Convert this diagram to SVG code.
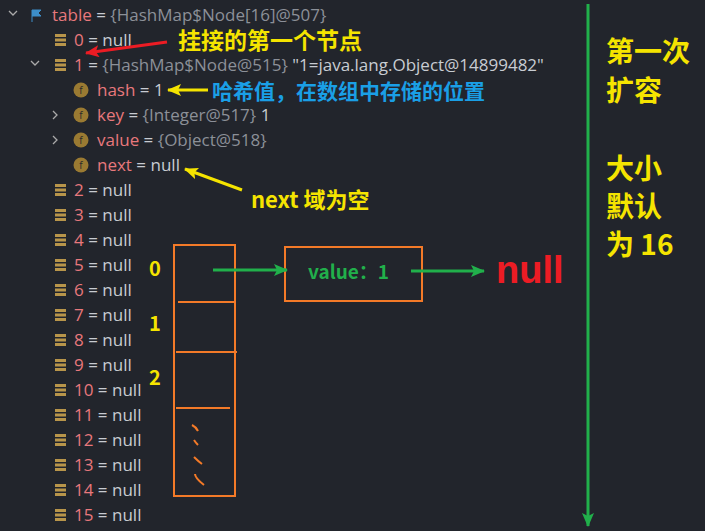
<svg xmlns="http://www.w3.org/2000/svg" width="705" height="531" viewBox="0 0 705 531">
<defs>
<style>
.t{font-family:"Open Sans","Noto Sans",sans-serif;font-size:17px}
.n{fill:#e8787c}.g{fill:#8c9098}.w{fill:#c8ccd2}
.a{font-family:"Noto Sans CJK SC",sans-serif;font-weight:bold}
.o{fill:none;stroke:#f47a28;stroke-width:2}
.i{fill:#b8954a}
</style>
<g id="bars"><rect x="0" y="-6" width="11" height="3" class="i"/><rect x="0" y="-1.5" width="11" height="3" class="i"/><rect x="0" y="3" width="11" height="3" class="i"/></g>
<g id="f"><circle cx="0" cy="0" r="7.5" fill="#9a7a32"/><text x="0" y="4" text-anchor="middle" font-family="Open Sans,sans-serif" font-size="10" fill="#2a2a2a">f</text></g>
<marker id="ag" markerWidth="14" markerHeight="12" refX="13" refY="6" orient="auto" markerUnits="userSpaceOnUse"><path d="M0,0L14,6L0,12L3,6z" fill="#21b04b"/></marker>
<marker id="ay" markerWidth="14" markerHeight="12" refX="13" refY="6" orient="auto" markerUnits="userSpaceOnUse"><path d="M0,0L14,6L0,12L3,6z" fill="#f5e400"/></marker>
<marker id="ar" markerWidth="14" markerHeight="12" refX="13" refY="6" orient="auto" markerUnits="userSpaceOnUse"><path d="M0,0L14,6L0,12L3,6z" fill="#ec1c24"/></marker>
</defs>
<rect width="705" height="531" fill="#22252c"/>
<g id="tree" class="t">
<path d="M9,11l4,4l4,-4" fill="none" stroke="#aaa" stroke-width="1.3"/>
<path d="M32,10v12M32,10h9l-3,3l3,3h-9" fill="#3d8ec9" stroke="#3d8ec9"/>
<text x="52" y="21"><tspan class="n">table</tspan><tspan class="w"> = </tspan><tspan class="g">{HashMap$Node[16]@507}</tspan></text>
<use href="#bars" x="55" y="40"/><text x="74" y="46"><tspan class="n">0</tspan><tspan class="w"> = null</tspan></text>
<path d="M31,61l4,4l4,-4" fill="none" stroke="#aaa" stroke-width="1.3"/>
<use href="#bars" x="55" y="65"/><text x="74" y="71"><tspan class="n">1</tspan><tspan class="w"> = </tspan><tspan class="g">{HashMap$Node@515}</tspan><tspan class="w"> "1=java.lang.Object@14899482"</tspan></text>
<use href="#f" x="81" y="90"/><text x="97" y="96"><tspan class="n">hash</tspan><tspan class="w"> = 1</tspan></text>
<path d="M53,111l4,4l-4,4" fill="none" stroke="#aaa" stroke-width="1.3"/>
<use href="#f" x="81" y="115"/><text x="97" y="121"><tspan class="n">key</tspan><tspan class="w"> = </tspan><tspan class="g">{Integer@517}</tspan><tspan class="w"> 1</tspan></text>
<path d="M53,136l4,4l-4,4" fill="none" stroke="#aaa" stroke-width="1.3"/>
<use href="#f" x="81" y="140"/><text x="97" y="146"><tspan class="n">value</tspan><tspan class="w"> = </tspan><tspan class="g">{Object@518}</tspan></text>
<use href="#f" x="81" y="165"/><text x="97" y="171"><tspan class="n">next</tspan><tspan class="w"> = null</tspan></text>
<use href="#bars" x="55" y="190"/><text x="74" y="196"><tspan class="n">2</tspan><tspan class="w"> = null</tspan></text>
<use href="#bars" x="55" y="215"/><text x="74" y="221"><tspan class="n">3</tspan><tspan class="w"> = null</tspan></text>
<use href="#bars" x="55" y="240"/><text x="74" y="246"><tspan class="n">4</tspan><tspan class="w"> = null</tspan></text>
<use href="#bars" x="55" y="265"/><text x="74" y="271"><tspan class="n">5</tspan><tspan class="w"> = null</tspan></text>
<use href="#bars" x="55" y="290"/><text x="74" y="296"><tspan class="n">6</tspan><tspan class="w"> = null</tspan></text>
<use href="#bars" x="55" y="315"/><text x="74" y="321"><tspan class="n">7</tspan><tspan class="w"> = null</tspan></text>
<use href="#bars" x="55" y="340"/><text x="74" y="346"><tspan class="n">8</tspan><tspan class="w"> = null</tspan></text>
<use href="#bars" x="55" y="365"/><text x="74" y="371"><tspan class="n">9</tspan><tspan class="w"> = null</tspan></text>
<use href="#bars" x="55" y="390"/><text x="74" y="396"><tspan class="n">10</tspan><tspan class="w"> = null</tspan></text>
<use href="#bars" x="55" y="415"/><text x="74" y="421"><tspan class="n">11</tspan><tspan class="w"> = null</tspan></text>
<use href="#bars" x="55" y="440"/><text x="74" y="446"><tspan class="n">12</tspan><tspan class="w"> = null</tspan></text>
<use href="#bars" x="55" y="465"/><text x="74" y="471"><tspan class="n">13</tspan><tspan class="w"> = null</tspan></text>
<use href="#bars" x="55" y="490"/><text x="74" y="496"><tspan class="n">14</tspan><tspan class="w"> = null</tspan></text>
<use href="#bars" x="55" y="515"/><text x="74" y="521"><tspan class="n">15</tspan><tspan class="w"> = null</tspan></text>
</g>
<g id="array">
<rect x="174" y="245" width="61" height="251" class="o"/>
<path d="M178,302H236M176,352H237M176,408H230" class="o"/>
<path d="M192,425q4,2 6,6M194,440q2,3 4,5M194,457q4,4 8,7M195,474q0,4 9,11" class="o" stroke-width="1.5"/>
<g class="a" font-size="20" fill="#f5e400"><text x="149" y="276">0</text><text x="149" y="331">1</text><text x="149" y="385">2</text></g>
</g>
<g id="valuebox">
<rect x="285" y="247" width="137" height="54" class="o"/>
<text x="308" y="279" class="a" font-size="19" fill="#21b04b">value：1</text>
</g>
<text id="nulltext" x="496" y="283" font-family="Liberation Sans,sans-serif" font-weight="bold" font-size="38" fill="#ec1c24">null</text>
<g id="connectors" stroke-width="3" fill="none">
<path d="M213,270H287" stroke="#21b04b" marker-end="url(#ag)"/>
<path d="M411,271H484" stroke="#21b04b" marker-end="url(#ag)"/>
<path d="M588,4V526" stroke="#21b04b" marker-end="url(#ag)"/>
<path d="M167,42L86,53" stroke="#ec1c24" marker-end="url(#ar)"/>
<path d="M208,90H168" stroke="#f5e400" marker-end="url(#ay)"/>
<path d="M242,190L185,169" stroke="#f5e400" marker-end="url(#ay)"/>
</g>
<g id="notes" class="a">
<text x="178" y="49" font-size="23" fill="#f5e400">挂接的第一个节点</text>
<text x="212" y="99" font-size="21" fill="#1a9fe6">哈希值，在数组中存储的位置</text>
<text x="251" y="208" font-size="22" fill="#f5e400">next 域为空</text>
</g>
<g id="side" class="a" font-size="28" fill="#f5e400">
<text x="606" y="62">第一次</text><text x="606" y="101">扩容</text>
<text x="606" y="179">大小</text><text x="606" y="217">默认</text><text x="606" y="255">为 16</text>
</g>
</svg>
